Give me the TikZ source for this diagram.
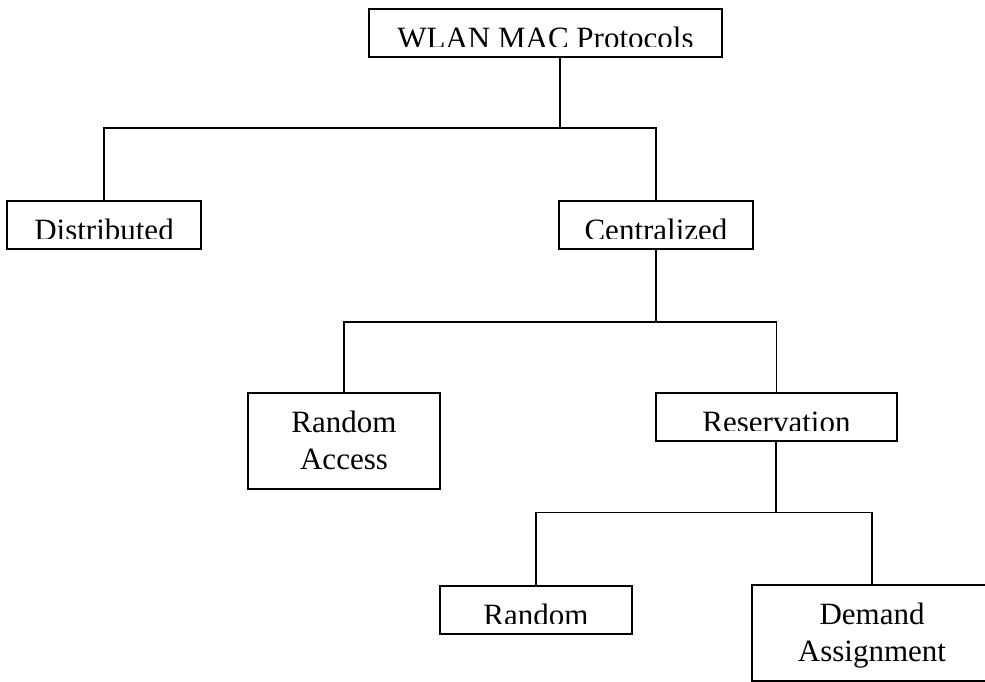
\documentclass[tikz,border=0pt]{standalone}
\usepackage{fontspec}
\setmainfont{Liberation Serif}
\usetikzlibrary{calc}
\begin{document}
\begin{tikzpicture}[x=1pt,y=-1pt,
  box/.style={draw, line width=1.4pt, inner sep=0pt},
  lbl/.style={font=\fontsize{31}{37}\selectfont, inner sep=0pt, anchor=base},
  conn/.style={line width=1.3pt}]
\useasboundingbox (0,0) rectangle (985,682);
% boxes
\node[box, minimum width=353pt, minimum height=48pt] (top)  at (545.5,33) {};
\node[box, minimum width=194pt, minimum height=48pt] (dist) at (104,225) {};
\node[box, minimum width=194pt, minimum height=48pt] (cent) at (656,225) {};
\node[box, minimum width=192pt, minimum height=96pt] (ra)   at (344,441) {};
\node[box, minimum width=241pt, minimum height=48pt] (res)  at (776.5,417) {};
\node[box, minimum width=192pt, minimum height=48pt] (rand) at (536,610) {};
\node[box, minimum width=240pt, minimum height=96pt] (dem)  at (872,633) {};
% single-line labels, clipped just under their baseline
\begin{scope}
  \clip (top.north west) rectangle ($(top.north east)+(0,38.5)$);
  \node[lbl] (topT) at ($(top.north)+(0,40)$) {WLAN MAC Protocols};
\end{scope}
\begin{scope}
  \clip (dist.north west) rectangle ($(dist.north east)+(0,38.5)$);
  \node[lbl] (distT) at ($(dist.north)+(0,40)$) {Distributed};
\end{scope}
\begin{scope}
  \clip (cent.north west) rectangle ($(cent.north east)+(0,38.5)$);
  \node[lbl] (centT) at ($(cent.north)+(0,40)$) {Centralized};
\end{scope}
\begin{scope}
  \clip (res.north west) rectangle ($(res.north east)+(0,38.5)$);
  \node[lbl] (resT) at ($(res.north)+(0,40)$) {Reservation};
\end{scope}
\begin{scope}
  \clip (rand.north west) rectangle ($(rand.north east)+(0,38.5)$);
  \node[lbl] (randT) at ($(rand.north)+(0,40)$) {Random};
\end{scope}
% two-line labels
\node[lbl] (raT) at ($(ra.north)+(0,40)$) {\begin{tabular}[t]{@{}c@{}}Random\\Access\end{tabular}};
\node[lbl] (demT) at ($(dem.north)+(0,40)$) {\begin{tabular}[t]{@{}c@{}}Demand\\Assignment\end{tabular}};
% junctions
\coordinate (j0) at (560,128);
\coordinate (j1) at (656,322);
\coordinate (j2) at (776,512.5);
% connectors
\draw[conn] (j0 |- top.south) -- (j0);
\draw[conn] (dist.north) |- (cent.north |- j0) -- (cent.north);
\draw[conn] (cent.south) -- (j1);
\draw[conn] (ra.north) |- (res.north |- j1) -- (res.north);
\draw[conn] (j2 |- res.south) -- (j2);
\draw[conn] (rand.north) |- (dem.north |- j2) -- (dem.north);
\end{tikzpicture}
\end{document}
